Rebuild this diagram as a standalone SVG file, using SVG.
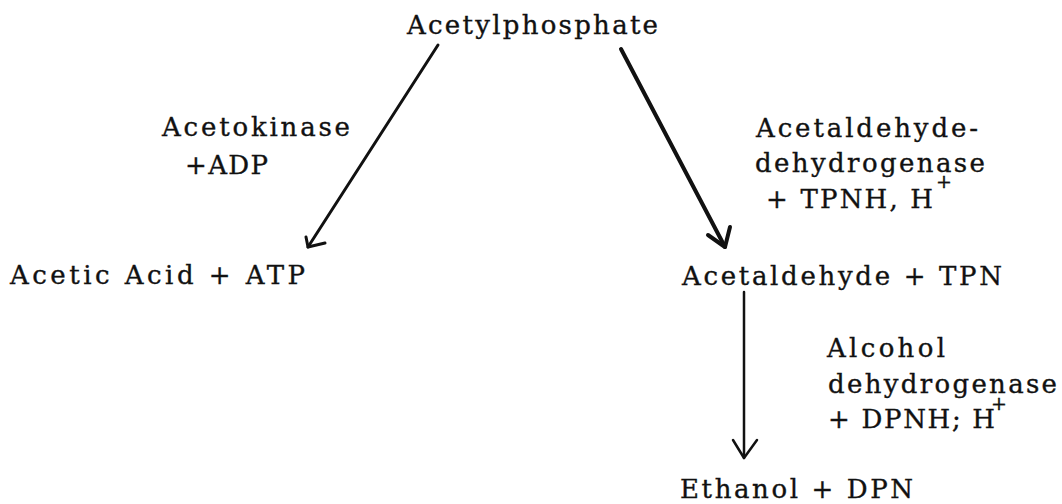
<svg xmlns="http://www.w3.org/2000/svg" width="1062" height="504" viewBox="0 0 1062 504">
<style>
text{font-family:"DejaVu Serif","Liberation Serif",serif;font-size:26px;fill:#111;stroke:#111;stroke-width:0.35}
.sup{font-size:19px}
.ln{stroke:#111;fill:none;stroke-linecap:round;stroke-linejoin:round}
</style>
<rect width="1062" height="504" fill="#fff"/>
<g id="connectors">
<path class="ln" stroke-width="3" d="M438 45 L308 247"/>
<path class="ln" stroke-width="3" d="M306 237 L308 247 L325 243"/>
<path class="ln" stroke-width="4" d="M621 49 L725 247"/>
<path class="ln" stroke-width="4" d="M708 235 L725 247 L730 227"/>
<path class="ln" stroke-width="2.5" d="M744 292 L744 458"/>
<path class="ln" stroke-width="2.5" d="M733 440 L744 458 L757 440"/>
</g>
<g id="acetylphosphate"><text x="407" y="34" textLength="251" lengthAdjust="spacing">Acetylphosphate</text></g>
<g id="acetokinase-label">
<text x="162" y="136" textLength="188" lengthAdjust="spacing">Acetokinase</text>
<text x="185" y="174" textLength="83" lengthAdjust="spacing">+ADP</text>
</g>
<g id="acetic-acid"><text x="10" y="284" textLength="295" lengthAdjust="spacing">Acetic Acid + ATP</text></g>
<g id="aldh-label">
<text x="756" y="137" textLength="222" lengthAdjust="spacing">Acetaldehyde-</text>
<text x="755" y="172" textLength="230" lengthAdjust="spacing">dehydrogenase</text>
<text x="766" y="208" textLength="167" lengthAdjust="spacing">+ TPNH, H</text>
<text class="sup" x="944" y="188" text-anchor="middle">+</text>
</g>
<g id="acetaldehyde"><text x="682" y="285" textLength="320" lengthAdjust="spacing">Acetaldehyde + TPN</text></g>
<g id="adh-label">
<text x="827" y="357" textLength="118" lengthAdjust="spacing">Alcohol</text>
<text x="828" y="393" textLength="229" lengthAdjust="spacing">dehydrogenase</text>
<text x="828" y="428" textLength="167" lengthAdjust="spacing">+ DPNH; H</text>
<text class="sup" x="999" y="410" text-anchor="middle">+</text>
</g>
<g id="ethanol"><text x="680" y="498" textLength="233" lengthAdjust="spacing">Ethanol + DPN</text></g>
</svg>
